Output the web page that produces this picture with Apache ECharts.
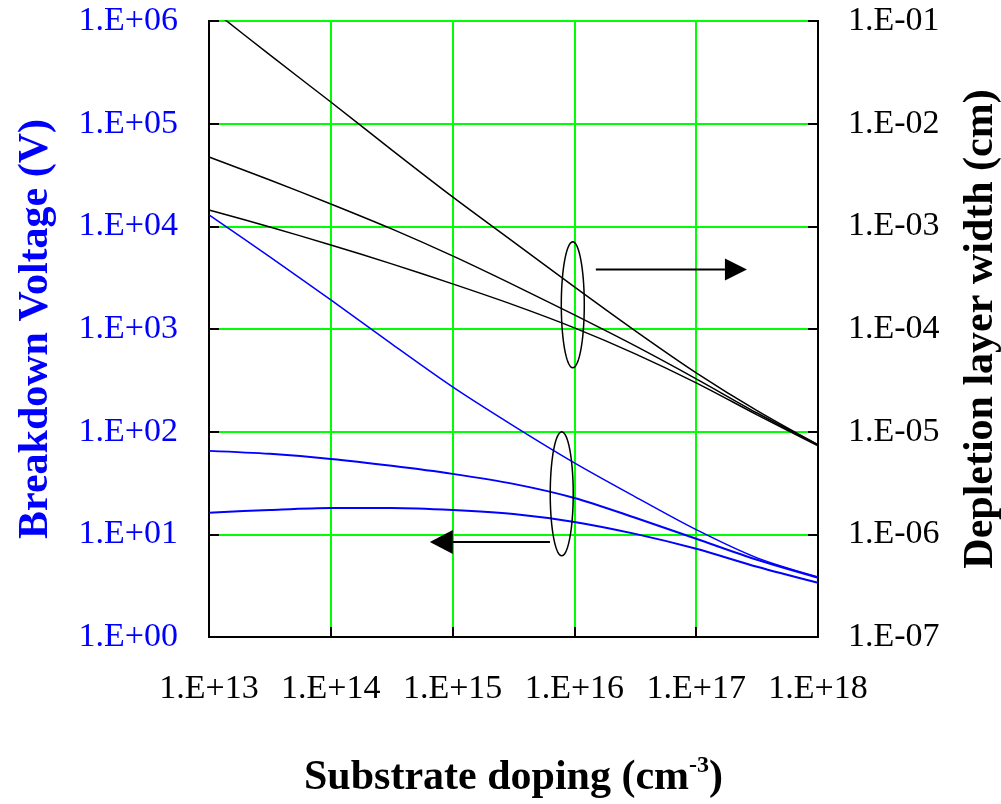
<!DOCTYPE html>
<html>
<head>
<meta charset="utf-8">
<script src="https://cdn.jsdelivr.net/npm/echarts@6/dist/echarts.min.js"></script>
<style>
html,body{margin:0;padding:0;background:#fff;overflow:hidden;}
#chart{width:1001px;height:804px;}
</style>
</head>
<body>
<div id="chart"></div>
<script>
// Substrate doping (cm^-3), decade and half-decade points
const doping = [1e13, 3.16e13, 1e14, 3.16e14, 1e15, 3.16e15, 1e16, 3.16e16, 1e17, 3.16e17, 1e18];

// Breakdown voltage (V) - left axis, blue
const bvCurve1 = [12900, 5035, 1920, 716, 273, 114, 49.7, 23.2, 11.1, 5.90, 3.85];
const bvCurve2 = [65.0, 60.8, 54.3, 46.5, 38.8, 31.0, 22.6, 14.5, 9.06, 5.65, 3.78];
const bvCurve3 = [16.2, 17.3, 18.1, 18.1, 17.3, 15.8, 13.2, 10.1, 7.23, 4.83, 3.37];

// Depletion layer width (cm) - right axis, black
const wCurve1 = [0.1368, 0.0467, 0.01626, 0.00555, 0.001932, 7.05e-4, 2.57e-4, 9.59e-5, 3.74e-5, 1.60e-5, 7.45e-6];
const wCurve2 = [4.74e-3, 2.83e-3, 1.652e-3, 9.44e-4, 5.15e-4, 2.69e-4, 1.371e-4, 6.84e-5, 3.27e-5, 1.52e-5, 7.45e-6];
const wCurve3 = [1.445e-3, 9.86e-4, 6.59e-4, 4.31e-4, 2.75e-4, 1.718e-4, 1.026e-4, 5.73e-5, 2.99e-5, 1.46e-5, 7.28e-6];

// Axis ranges
const xRange = [1e13, 1e18];
const leftRange = [1, 1e6];
const rightRange = [1e-7, 1e-1];

// Annotation anchors in data coordinates
const wGroupEllipse = [9.7e15, 1.72e-4];   // right axis
const wArrow = [[1.5e16, 3.8e-4], [2.61e17, 3.8e-4]];
const bvGroupEllipse = [7.87e15, 24.8];    // left axis
const bvArrow = [[6.3e15, 8.4], [6.5e14, 8.4]];

const SERIF = '"Liberation Serif", "Times New Roman", serif';

function expLabel(v) {
  const e = Math.round(Math.log10(v));
  const s = e < 0 ? '-' : '+';
  const a = Math.abs(e);
  return '1.E' + s + (a < 10 ? '0' + a : '' + a);
}
function pairs(xs, ys) { return xs.map((x, i) => [x, ys[i]]); }

const chart = echarts.init(document.getElementById('chart'), null, { width: 1001, height: 804 });

const tickStyle = { show: true, inside: true, length: 10, lineStyle: { color: '#000', width: 2 } };

chart.setOption({
  animation: false,
  backgroundColor: '#fff',
  grid: { left: 209, width: 609, top: 21, height: 616, show: true, borderColor: '#000', borderWidth: 2, containLabel: false, outerBoundsMode: 'none' },
  xAxis: {
    type: 'log', logBase: 10, min: xRange[0], max: xRange[1],
    axisLine: { show: true, onZero: false, lineStyle: { color: '#000', width: 2 } },
    axisTick: tickStyle,
    minorTick: { show: false },
    splitLine: { show: true, lineStyle: { color: '#00ff00', width: 2 } },
    axisLabel: { formatter: expLabel, color: '#000', fontFamily: SERIF, fontSize: 34, margin: 35 },
    name: '{a|Substrate doping (cm}{s|-3}{a|)}',
    nameLocation: 'middle', nameGap: 117,
    nameTextStyle: {
      rich: {
        a: { fontFamily: SERIF, fontWeight: 'bold', fontSize: 42, color: '#000', lineHeight: 48 },
        s: { fontFamily: SERIF, fontWeight: 'bold', fontSize: 24, color: '#000', lineHeight: 48, verticalAlign: 'top', padding: [0, 0, 18, 0] }
      }
    }
  },
  yAxis: [
    {
      type: 'log', logBase: 10, min: leftRange[0], max: leftRange[1], position: 'left',
      axisLine: { show: true, lineStyle: { color: '#000', width: 2 } },
      axisTick: tickStyle,
      splitLine: { show: true, lineStyle: { color: '#00ff00', width: 2 } },
      axisLabel: { formatter: expLabel, color: '#0000ff', fontFamily: SERIF, fontSize: 34, margin: 31 },
      name: 'Breakdown Voltage (V)', nameLocation: 'middle', nameGap: 152,
      nameTextStyle: { color: '#0000ff', fontFamily: SERIF, fontWeight: 'bold', fontSize: 42 }
    },
    {
      type: 'log', logBase: 10, min: rightRange[0], max: rightRange[1], position: 'right',
      axisLine: { show: true, lineStyle: { color: '#000', width: 2 } },
      axisTick: tickStyle,
      splitLine: { show: false },
      axisLabel: { formatter: expLabel, color: '#000', fontFamily: SERIF, fontSize: 34, margin: 30 },
      name: 'Depletion layer width (cm)', nameLocation: 'middle', nameGap: 142,
      nameTextStyle: { color: '#000', fontFamily: SERIF, fontWeight: 'bold', fontSize: 42 }
    }
  ],
  series: [
    { type: 'line', yAxisIndex: 0, data: pairs(doping, bvCurve1), showSymbol: false, symbol: 'none', smooth: 0.3, lineStyle: { color: '#0000ff', width: 1.5 }, z: 3 },
    { type: 'line', yAxisIndex: 0, data: pairs(doping, bvCurve2), showSymbol: false, symbol: 'none', smooth: 0.3, lineStyle: { color: '#0000ff', width: 2 }, z: 3 },
    { type: 'line', yAxisIndex: 0, data: pairs(doping, bvCurve3), showSymbol: false, symbol: 'none', smooth: 0.3, lineStyle: { color: '#0000ff', width: 2 }, z: 3 },
    { type: 'line', yAxisIndex: 1, data: pairs(doping, wCurve1), showSymbol: false, symbol: 'none', smooth: 0.3, lineStyle: { color: '#000', width: 1.5 }, z: 3 },
    { type: 'line', yAxisIndex: 1, data: pairs(doping, wCurve2), showSymbol: false, symbol: 'none', smooth: 0.3, lineStyle: { color: '#000', width: 1.5 }, z: 3 },
    { type: 'line', yAxisIndex: 1, data: pairs(doping, wCurve3), showSymbol: false, symbol: 'none', smooth: 0.3, lineStyle: { color: '#000', width: 1.5 }, z: 3 }
  ]
});

function px(pt, yIdx) { return chart.convertToPixel({ xAxisIndex: 0, yAxisIndex: yIdx }, pt); }
function ellipsePts(c, rx, ry) {
  const pts = [];
  for (let i = 0; i < 72; i++) {
    const t = i / 72 * Math.PI * 2;
    pts.push([c[0] + rx * Math.cos(t), c[1] + ry * Math.sin(t)]);
  }
  return pts;
}
function arrow(p0, p1, headLen, headHalf) {
  const dir = p1[0] > p0[0] ? 1 : -1;
  const baseX = p1[0] - dir * headLen;
  return [
    { type: 'line', shape: { x1: p0[0], y1: p0[1], x2: baseX, y2: p1[1] }, style: { stroke: '#000', lineWidth: 2 }, z: 10 },
    { type: 'polygon', shape: { points: [[p1[0], p1[1]], [baseX, p1[1] - headHalf], [baseX, p1[1] + headHalf]] }, style: { fill: '#000' }, z: 10 }
  ];
}

const e1 = px(wGroupEllipse, 1);
const e2 = px(bvGroupEllipse, 0);
const a1 = wArrow.map(p => px(p, 1));
const a2 = bvArrow.map(p => px(p, 0));

chart.setOption({
  graphic: [
    { type: 'polygon', shape: { points: ellipsePts(e1, 11.5, 63) }, style: { fill: 'none', stroke: '#000', lineWidth: 1.5 }, z: 10 },
    { type: 'polygon', shape: { points: ellipsePts(e2, 11.5, 62) }, style: { fill: 'none', stroke: '#000', lineWidth: 1.5 }, z: 10 }
  ].concat(arrow(a1[0], a1[1], 22, 11)).concat(arrow(a2[0], a2[1], 23, 12))
});
</script>
</body>
</html>
